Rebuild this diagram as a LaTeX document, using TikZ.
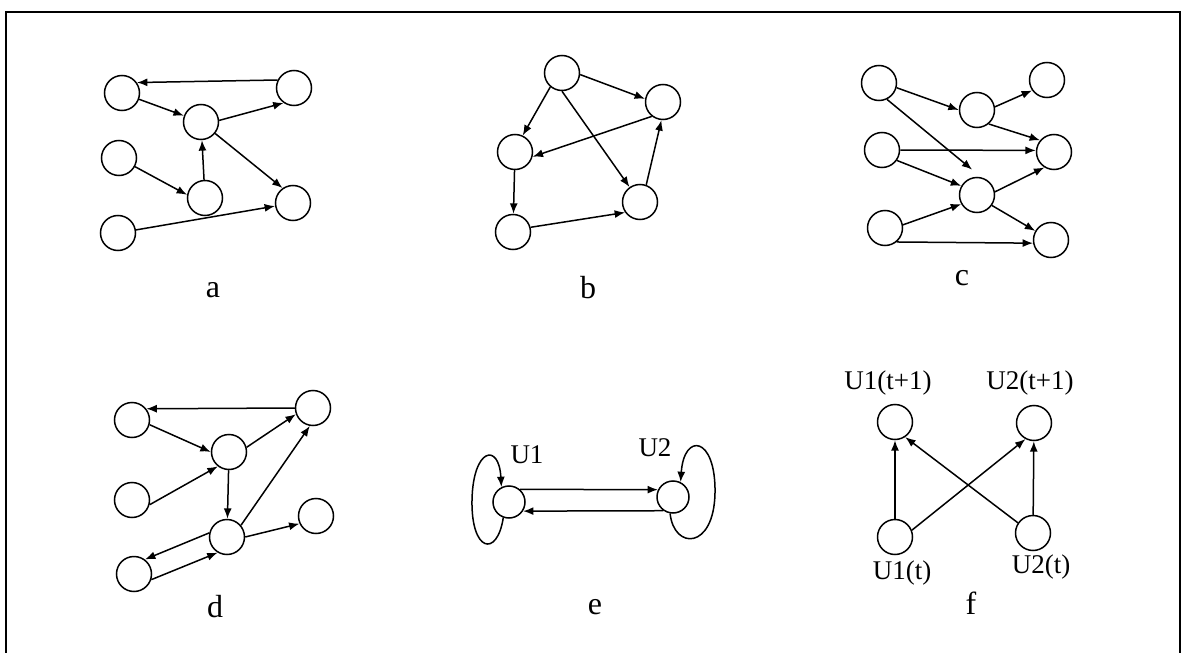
\documentclass[tikz,border=0pt]{standalone}
\usepackage{fontspec}
\setmainfont{Liberation Serif}
\usetikzlibrary{arrows.meta}

\begin{document}
\begin{tikzpicture}[x=0.5pt, y=-0.5pt,
  unit/.style={circle, draw, line width=0.75pt, minimum size=17.5pt, inner sep=0pt},
  link/.style={line width=0.75pt, -{Latex[length=5.2pt,width=4pt]}},
  tag/.style={font=\fontsize{13.5}{15}\selectfont, inner sep=1pt},
  panel/.style={font=\fontsize{16}{18}\selectfont, inner sep=1pt}]
  \useasboundingbox (0,0) rectangle (1185,653);

  % Frame (open at the bottom)
  \draw[line width=0.8pt] (6,660) -- (6,12) -- (1180,12) -- (1180,660);

  % === Panel a ===
  \node[unit] (a1) at (122,93) {};
  \node[unit] (a2) at (294,88) {};
  \node[unit] (a3) at (201,122) {};
  \node[unit] (a4) at (119,158) {};
  \node[unit] (a5) at (205,198) {};
  \node[unit] (a6) at (293,203) {};
  \node[unit] (a7) at (118,233) {};
  \node[panel] (la) at (213,290) {a};
  \draw[link] (a2.154) -- (a1.35);
  \draw[link] (a1) -- (a3);
  \draw[link] (a3.5) -- (a2.235);
  \draw[link] (a4) -- (a5.170);
  \draw[link] (a5) -- (a3);
  \draw[link] (a3) -- (a6.125);
  \draw[link] (a7) -- (a6);

  % === Panel b ===
  \node[unit] (b1) at (562,73) {};
  \node[unit] (b2) at (663,102) {};
  \node[unit] (b3) at (515,152) {};
  \node[unit] (b4) at (640,202) {};
  \node[unit] (b5) at (513,232) {};
  \node[panel] (lb) at (588,288) {b};
  \draw[link] (b1.-5) -- (b2.170);
  \draw[link] (b1.230) -- (b3.65);
  \draw[link] (b1.270) -- (b4.125);
  \draw[link] (b2.232) -- (b3.-15);
  \draw[link] (b3) -- (b5);
  \draw[link] (b5.15) -- (b4.215);
  \draw[link] (b4.70) -- (b2.265);

  % === Panel c ===
  \node[unit] (c1) at (879,83) {};
  \node[unit] (c2) at (977,110) {};
  \node[unit] (c3) at (1047,80) {};
  \node[unit] (c4) at (882,150) {};
  \node[unit] (c5) at (1054,152) {};
  \node[unit] (c6) at (977,195) {};
  \node[unit] (c7) at (885,228) {};
  \node[unit] (c8) at (1051,240) {};
  \node[panel] (lc) at (962,278) {c};
  \draw[link] (c1.-15) -- (c2.180);
  \draw[link, shorten >=6pt] (c1.-64) -- (c6.76);
  \draw[link] (c2.10) -- (c3.215);
  \draw[link] (c2.-50) -- (c5.140);
  \draw[link] (c4.0) -- (c5.175);
  \draw[link] (c4.-35) -- (c6.150);
  \draw[link] (c7.10) -- (c6.210);
  \draw[link] (c7.-50) -- (c8.190);
  \draw[link] (c6.10) -- (c5.238);
  \draw[link] (c6.-35) -- (c8.150);

  % === Panel d ===
  \node[unit] (d1) at (132,420) {};
  \node[unit] (d2) at (313,408) {};
  \node[unit] (d3) at (229,452) {};
  \node[unit] (d4) at (132,500) {};
  \node[unit] (d5) at (227,537) {};
  \node[unit] (d6) at (316,516) {};
  \node[unit] (d7) at (134,574) {};
  \node[panel] (ld) at (215,607) {d};
  \draw[link] (d2.180) -- (d1.38);
  \draw[link] (d1.-15) -- (d3.180);
  \draw[link] (d4.-15) -- (d3.232);
  \draw[link] (d3.15) -- (d2.200);
  \draw[link] (d3) -- (d5);
  \draw[link] (d5.40) -- (d2.260);
  \draw[link] (d5.0) -- (d6.205);
  \draw[link] (d5.167) -- (d7.53);
  \draw[link] (d7.-18) -- (d5.239);

  % === Panel e: two units with self loops ===
  \node[unit, minimum size=16pt] (e1) at (509,502) {};
  \node[unit, minimum size=16pt] (e2) at (673,497) {};
  \node[tag] (u1) at (527,455) {U1};
  \node[tag] (u2) at (655,448) {U2};
  \node[panel] (le) at (595,607) {e};
  \draw[link] (e1.49) -- (e2.154);
  \draw[link] (e2.235) -- (e1.-33);
  % self loops
  \draw[link] (e1.250) .. controls (497,558) and (471,552) .. (472,500)
    .. controls (473,448) and (499,442) .. (e1.117);
  \draw[link] (e2.260) .. controls (674,550) and (714,550) .. (715,493)
    .. controls (716,436) and (684,432) .. (e2.63);

  % === Panel f: unfolded in time ===
  \node[unit] (f1) at (895,422) {};
  \node[unit] (f2) at (1034,423) {};
  \node[unit] (f3) at (895,537) {};
  \node[unit] (f4) at (1033,533) {};
  \node[tag] (t1) at (888,383) {U1(t+1)};
  \node[tag] (t2) at (1030,383) {U2(t+1)};
  \node[tag] (t3) at (902,573) {U1(t)};
  \node[tag] (t4) at (1041,567) {U2(t)};
  \node[panel] (lf) at (971,603) {f};
  \draw[link] (f3) -- (f1);
  \draw[link] (f3.22) -- (f2.242);
  \draw[link] (f4.146) -- (f1.-56);
  \draw[link] (f4) -- (f2);

\end{tikzpicture}
\end{document}
